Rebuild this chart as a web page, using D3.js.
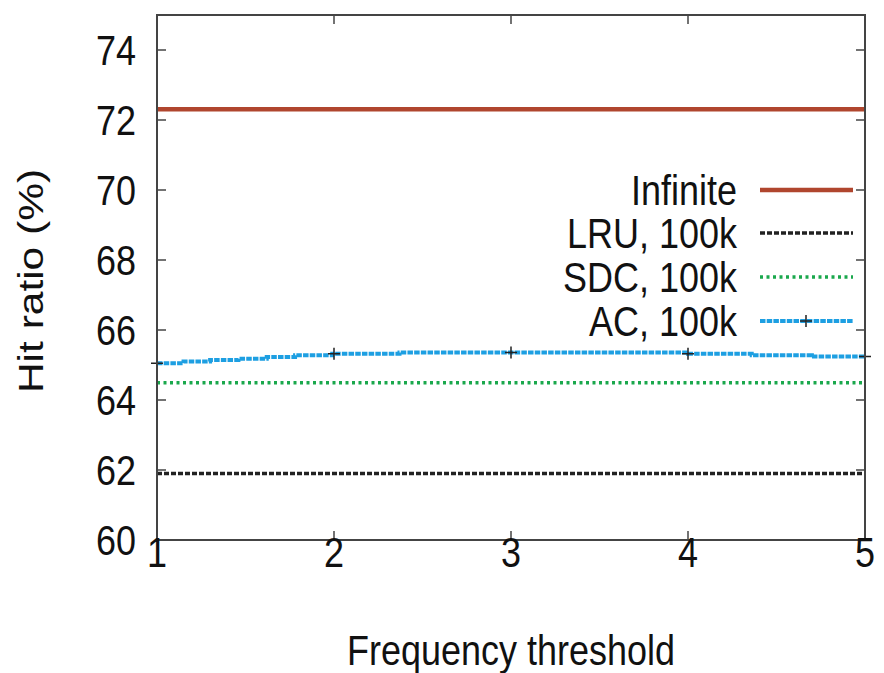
<!DOCTYPE html>
<html>
<head>
<meta charset="utf-8">
<script src="https://cdn.jsdelivr.net/npm/d3@7"></script>
<style>
  body { margin: 0; background: #fff; }
  text { font-family: "Liberation Sans", Arial, sans-serif; fill: #111; }
</style>
</head>
<body>
<script>
// data
var thresholds = [1, 2, 3, 4, 5];
var infiniteHit = 72.31;
var lruHit = 61.9;
var sdcHit = 64.49;
var acX = [1, 1.15, 1.30, 1.46, 1.62, 1.78, 1.99, 2.37, 4.0, 4.36, 4.70, 5];
var acY = [65.05, 65.10, 65.14, 65.18, 65.23, 65.28, 65.32, 65.36, 65.32, 65.28, 65.24, 65.24];
var yTicks = [60, 62, 64, 66, 68, 70, 72, 74];
var seriesNames = ["Infinite", "LRU, 100k", "SDC, 100k", "AC, 100k"];

var width = 884, height = 673;
var m = { left: 157, right: 865, top: 15, bottom: 540 };
var stretch = 1.18; // text in the picture is taller than wide
var fontSize = 36;

var svg = d3.select("body").append("svg")
    .attr("width", width)
    .attr("height", height);

var x = d3.scaleLinear().domain([1, 5]).range([m.left, m.right]);
var y = d3.scaleLinear().domain([60, 75]).range([m.bottom, m.top]);

// styles for each series
var styles = [
    { color: "#b0462e", width: 4.5, dash: null },
    { color: "#222222", width: 3.5, dash: "5,2" },
    { color: "#1aa84c", width: 3.5, dash: "3,3.5" },
    { color: "#1d9fe2", width: 4, dash: "5.5,1.2" }
];

// text helper: baseline at (tx, ty), stretched vertically
function label(g, tx, ty, str, anchor) {
    return g.append("text")
        .attr("transform", "translate(" + tx + "," + ty + ") scale(1," + stretch + ")")
        .attr("text-anchor", anchor)
        .attr("font-size", fontSize)
        .text(str);
}

svg.append("clipPath").attr("id", "clip")
  .append("rect")
    .attr("x", m.left).attr("y", m.top)
    .attr("width", m.right - m.left).attr("height", m.bottom - m.top);

var plot = svg.append("g").attr("clip-path", "url(#clip)");

var flat = [infiniteHit, lruHit, sdcHit];
flat.forEach(function(v, i) {
    plot.append("path")
        .datum(thresholds)
        .attr("d", d3.line().x(function(d) { return x(d); }).y(function() { return y(v); }))
        .attr("fill", "none")
        .attr("stroke", styles[i].color)
        .attr("stroke-width", styles[i].width)
        .attr("stroke-dasharray", styles[i].dash);
});

var acPts = acX.map(function(d, i) { return [d, acY[i]]; });
plot.append("path")
    .datum(acPts)
    .attr("d", d3.line().curve(d3.curveStepAfter)
        .x(function(d) { return x(d[0]); })
        .y(function(d) { return y(d[1]); }))
    .attr("fill", "none")
    .attr("stroke", styles[3].color)
    .attr("stroke-width", styles[3].width)
    .attr("stroke-dasharray", styles[3].dash);

// "+" markers at each integer threshold
function acAt(t) {
    var v = acY[0];
    acX.forEach(function(d, i) { if (d <= t) v = acY[i]; });
    return v;
}
function plus(g, cx, cy) {
    g.append("path")
        .attr("d", "M" + (cx - 6) + "," + cy + "H" + (cx + 6) + "M" + cx + "," + (cy - 6) + "V" + (cy + 6))
        .attr("stroke", "#222").attr("stroke-width", 1.5).attr("fill", "none");
}
thresholds.forEach(function(t) { plus(svg, x(t), y(acAt(t))); });

// frame and ticks
var axisColor = "#444";
svg.append("rect")
    .attr("x", m.left).attr("y", m.top)
    .attr("width", m.right - m.left).attr("height", m.bottom - m.top)
    .attr("fill", "none").attr("stroke", axisColor).attr("stroke-width", 2);

var ticks = svg.append("g").attr("stroke", axisColor).attr("stroke-width", 1.5);
yTicks.forEach(function(t) {
    if (t === 60) return;
    ticks.append("line").attr("x1", m.left).attr("x2", m.left + 9).attr("y1", y(t)).attr("y2", y(t));
    ticks.append("line").attr("x1", m.right).attr("x2", m.right - 9).attr("y1", y(t)).attr("y2", y(t));
});
thresholds.slice(1, -1).forEach(function(t) {
    ticks.append("line").attr("x1", x(t)).attr("x2", x(t)).attr("y1", m.bottom).attr("y2", m.bottom - 9);
    ticks.append("line").attr("x1", x(t)).attr("x2", x(t)).attr("y1", m.top).attr("y2", m.top + 9);
});

// tick labels
var tl = svg.append("g");
yTicks.forEach(function(t) { label(tl, 136, y(t) + 14.5, t, "end"); });
thresholds.forEach(function(t) { label(tl, x(t), 567, t, "middle"); });

// axis titles
label(svg, (m.left + m.right) / 2, 665, "Frequency threshold", "middle");

svg.append("text")
    .attr("transform", "translate(43,281) scale(1," + stretch + ") rotate(-90)")
    .attr("text-anchor", "middle").attr("font-size", fontSize)
    .text("Hit ratio (%)");

// legend
var legendY = [190, 233, 277, 321];
var legend = svg.append("g");
seriesNames.forEach(function(name, i) {
    label(legend, 737, legendY[i] + 15, name, "end");
    legend.append("line")
        .attr("x1", 760).attr("x2", 853)
        .attr("y1", legendY[i]).attr("y2", legendY[i])
        .attr("stroke", styles[i].color)
        .attr("stroke-width", styles[i].width)
        .attr("stroke-dasharray", styles[i].dash);
});
plus(legend, 806, legendY[3]);
</script>
</body>
</html>
